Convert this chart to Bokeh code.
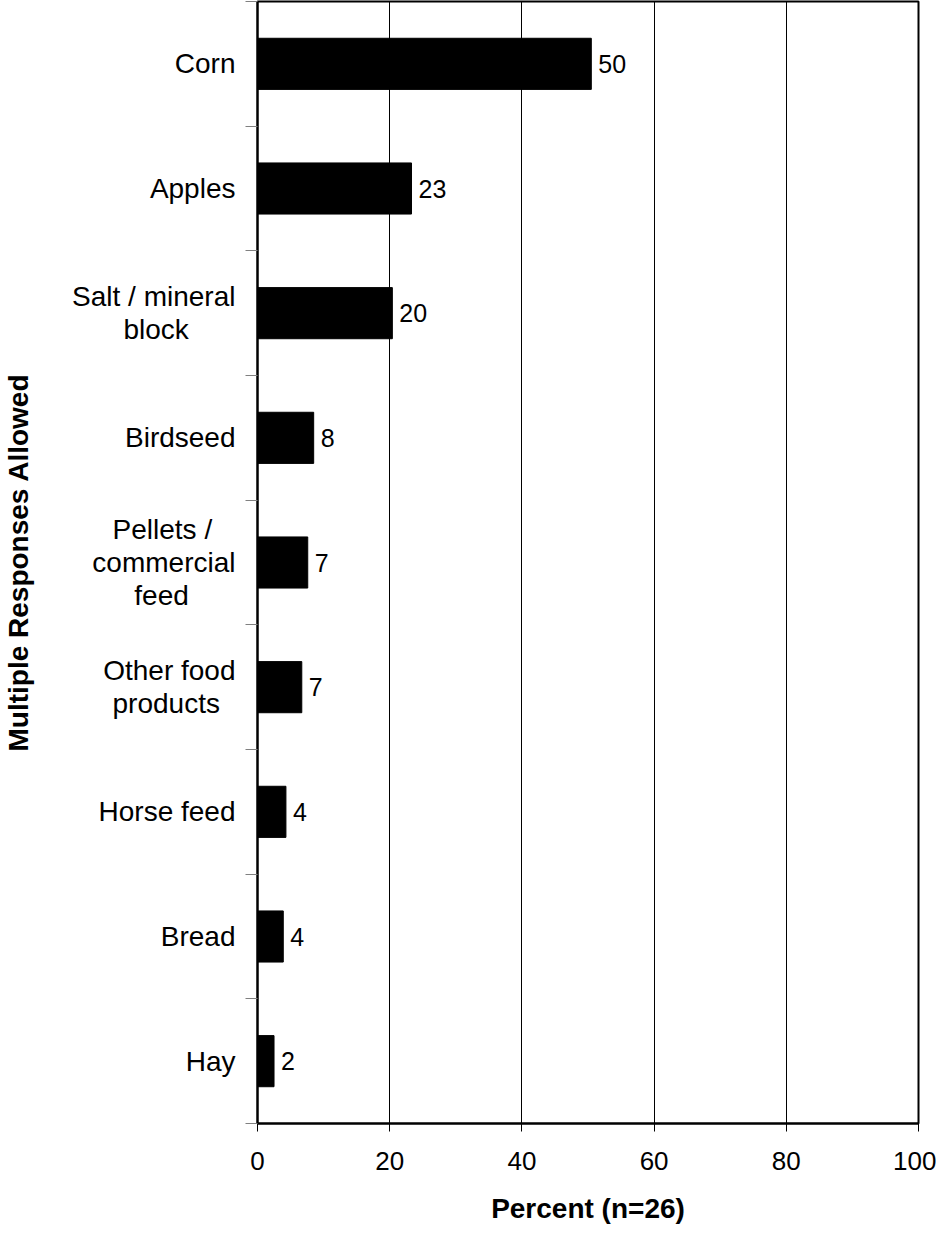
from bokeh.plotting import figure
from bokeh.models import Range1d, FixedTicker, ColumnDataSource
from bokeh.core.properties import value
from bokeh.embed import file_html
from bokeh.resources import INLINE

categories = ["Corn", "Apples", "Salt / mineral\nblock", "Birdseed",
              "Pellets /\ncommercial\nfeed", "Other food\nproducts",
              "Horse feed", "Bread", "Hay"]
percents = [50.5, 23.3, 20.4, 8.5, 7.6, 6.7, 4.3, 3.9, 2.5]
labels = ["50", "23", "20", "8", "7", "7", "4", "4", "2"]
x_ticks = [0, 20, 40, 60, 80, 100]

FONT = "Liberation Sans"
n = len(categories)
ypos = [i + 0.5 for i in range(n)]

# approximate Arial advance widths (1/1000 em) used to center multi-line labels
_W = dict(zip("abcdefghijklmnopqrstuvwxyz",
              [556, 556, 500, 556, 556, 278, 556, 556, 222, 222, 500, 222, 833,
               556, 556, 556, 556, 333, 500, 278, 556, 500, 722, 500, 500, 500]))
_W.update({" ": 278, "/": 278, "A": 667, "B": 667, "C": 722, "H": 722,
           "O": 778, "P": 667, "S": 667})


def _w(s):
    return sum(_W.get(ch, 556) for ch in s)


def centered(label):
    lines = label.split("\n")
    if len(lines) == 1:
        return label
    mw = max(_w(l) for l in lines)
    out = []
    for l in lines:
        pad = int(round((mw - _w(l)) / 2 / 278))
        out.append(l + "\u00a0" * pad)
    return "\n".join(out)


src = ColumnDataSource(dict(y=ypos, v=percents, lab=labels))

p = figure(frame_width=661, frame_height=1122, output_backend="svg",
           toolbar_location=None,
           x_range=Range1d(0, 100), y_range=Range1d(n, 0),
           min_border_left=252, min_border_right=18, min_border_top=1,
           min_border_bottom=90)

p.hbar(y="y", right="v", left=0, height=0.41, source=src,
       fill_color="black", line_color="black")
p.text(x="v", y="y", text="lab", source=src, x_offset=7,
       text_baseline="middle", text_align="left",
       text_font=value(FONT), text_font_size="25px", text_color="black")

p.outline_line_color = "black"
p.outline_line_width = 2
p.background_fill_color = "white"
p.border_fill_color = "white"

# x axis
xa = p.xaxis[0]
xa.ticker = FixedTicker(ticks=x_ticks)
xa.axis_label = "Percent (n=26)"
xa.axis_label_text_font = FONT
xa.axis_label_text_font_style = "bold"
xa.axis_label_text_font_size = "28px"
xa.axis_label_text_color = "black"
xa.axis_label_standoff = 20
xa.major_label_text_font = FONT
xa.major_label_text_font_size = "26px"
xa.major_label_text_color = "black"
xa.major_label_standoff = 20
xa.major_tick_out = 8
xa.major_tick_in = 0
xa.minor_tick_out = 0
xa.minor_tick_in = 0
xa.axis_line_color = "black"
xa.axis_line_width = 2
xa.major_tick_line_color = "black"

# y axis
ya = p.yaxis[0]
ya.ticker = FixedTicker(ticks=ypos, minor_ticks=list(range(n + 1)))
ya.major_label_overrides = {y: centered(c) for y, c in zip(ypos, categories)}
ya.major_label_text_font = FONT
ya.major_label_text_font_size = "28px"
ya.major_label_text_line_height = 1.05
ya.major_label_text_color = "black"
ya.major_label_standoff = 10
ya.major_tick_out = 0
ya.major_tick_in = 0
ya.minor_tick_out = 12
ya.minor_tick_in = 0
ya.minor_tick_line_color = "#808080"
ya.minor_tick_line_width = 1
ya.axis_line_color = "black"
ya.axis_line_width = 2
ya.axis_label = "Multiple Responses Allowed"
ya.axis_label_text_font = FONT
ya.axis_label_text_font_style = "bold"
ya.axis_label_text_font_size = "28px"
ya.axis_label_text_color = "black"
ya.axis_label_standoff = 35

p.xgrid.ticker = FixedTicker(ticks=x_ticks)
p.xgrid.grid_line_color = "black"
p.xgrid.grid_line_width = 1
p.ygrid.grid_line_color = None

open("out.html", "w").write(file_html(p, INLINE))
